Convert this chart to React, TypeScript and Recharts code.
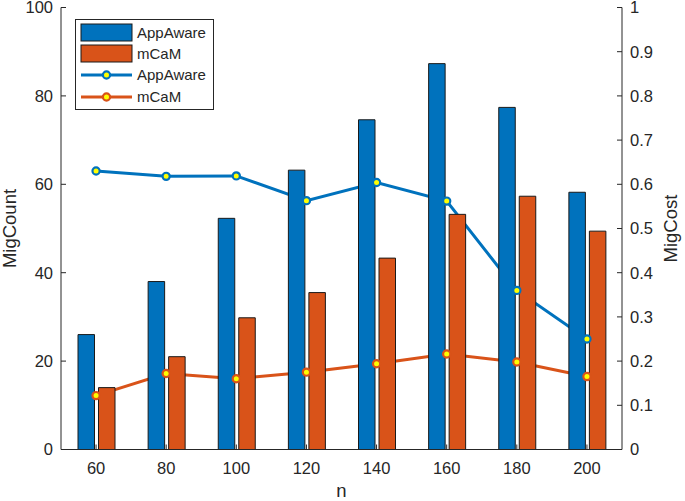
import React from 'react'
import { ComposedChart, Bar, Line, XAxis, YAxis } from 'recharts'

const FONT = '"Liberation Sans", Arial, Helvetica, sans-serif'
const INK = '#262626'
const BLUE = '#0072BD'
const ORANGE = '#D95319'
const MARKER_FILL = '#FFFF00'

// n values along the x axis
const categories = ['60', '80', '100', '120', '140', '160', '180', '200']

// bars, left axis (MigCount)
const appAwareCount = [26, 38, 52.3, 63.2, 74.6, 87.3, 77.4, 58.2]
const mcamCount = [14, 21, 29.8, 35.5, 43.3, 53.2, 57.3, 49.4]

// lines, right axis (MigCost)
const appAwareCost = [0.63, 0.618, 0.619, 0.563, 0.604, 0.562, 0.36, 0.25]
const mcamCost = [0.122, 0.172, 0.16, 0.175, 0.194, 0.216, 0.198, 0.165]

const countTicks = [0, 20, 40, 60, 80, 100]
const costTicks = [0, 0.1, 0.2, 0.3, 0.4, 0.5, 0.6, 0.7, 0.8, 0.9, 1]

const data = categories.map((n, i) => ({
  n,
  appAwareCount: appAwareCount[i],
  mcamCount: mcamCount[i],
  appAwareCost: appAwareCost[i],
  mcamCost: mcamCost[i],
}))

const tickStyle = { fill: INK, fontSize: 16.5, fontFamily: FONT }
const labelStyle = { fill: INK, fontSize: 18.5, fontFamily: FONT, textAnchor: 'middle' as const }

const emptyTick = () => <g />

// MATLAB style marker: coloured ring, yellow centre
const ringDot = (color: string) => (props: any) => {
  const { cx, cy, key } = props
  if (cx == null || cy == null) return <g key={key} />
  return <circle key={key} cx={cx} cy={cy} r={3.6} fill={MARKER_FILL} stroke={color} strokeWidth={2.2} />
}

function ChartLegend() {
  const rows = [
    { label: 'AppAware', color: BLUE, kind: 'bar' },
    { label: 'mCaM', color: ORANGE, kind: 'bar' },
    { label: 'AppAware', color: BLUE, kind: 'line' },
    { label: 'mCaM', color: ORANGE, kind: 'line' },
  ]
  const centers = [13.5, 34.5, 56, 78]
  return (
    <svg
      width={139}
      height={91}
      style={{ position: 'absolute', left: 74.5, top: 18.5, overflow: 'visible' }}
    >
      <rect x={0.5} y={0.5} width={138} height={90} fill="#fff" stroke={INK} strokeWidth={1} />
      {rows.map((r, i) => (
        <g key={i}>
          {r.kind === 'bar' ? (
            <rect x={6} y={centers[i] - 8.5} width={51} height={17} fill={r.color} stroke="#1a1a1a" strokeWidth={1} />
          ) : (
            <g>
              <line x1={6} x2={57} y1={centers[i]} y2={centers[i]} stroke={r.color} strokeWidth={3} />
              <circle cx={31.5} cy={centers[i]} r={3.6} fill={MARKER_FILL} stroke={r.color} strokeWidth={2.2} />
            </g>
          )}
          <text x={62} y={centers[i]} dy="0.36em" fontSize={15} fontFamily={FONT} fill={INK}>
            {r.label}
          </text>
        </g>
      ))}
    </svg>
  )
}

export default function App() {
  return (
    <div style={{ position: 'absolute', left: 0, top: 0, width: 685, height: 501, background: '#fff' }}>
      <ComposedChart
        width={685}
        height={501}
        data={data}
        margin={{ top: 7.5, right: 8, bottom: 0, left: 0 }}
        barGap={4}
      >
        <XAxis
          dataKey="n"
          height={51.5}
          tick={tickStyle}
          tickSize={-5}
          tickMargin={18}
          axisLine={{ stroke: INK }}
          tickLine={{ stroke: INK }}
          interval={0}
          label={{ value: 'n', position: 'insideBottom', offset: 4, style: labelStyle }}
        />
        <XAxis
          xAxisId="top"
          dataKey="n"
          orientation="top"
          height={0}
          tick={emptyTick}
          tickSize={-5}
          axisLine={{ stroke: INK }}
          tickLine={{ stroke: INK }}
          interval={0}
        />
        <YAxis
          yAxisId="left"
          width={61}
          domain={[0, 100]}
          ticks={countTicks}
          interval={0}
          tick={tickStyle}
          tickSize={-5}
          tickMargin={13}
          axisLine={{ stroke: INK }}
          tickLine={{ stroke: INK }}
          label={{ value: 'MigCount', angle: -90, position: 'insideLeft', offset: 9.5, style: labelStyle }}
        />
        <YAxis
          yAxisId="right"
          orientation="right"
          width={55}
          domain={[0, 1]}
          ticks={costTicks}
          interval={0}
          tick={tickStyle}
          tickSize={-5}
          tickMargin={13}
          axisLine={{ stroke: INK }}
          tickLine={{ stroke: INK }}
          label={{ value: 'MigCost', angle: -90, position: 'insideRight', offset: 7, style: labelStyle }}
        />

        {/* line strokes sit behind the bars, markers on top, like the MATLAB figure */}
        <Line
          yAxisId="right"
          dataKey="appAwareCost"
          stroke={BLUE}
          strokeWidth={3}
          dot={false}
          activeDot={false}
          legendType="none"
          zIndex={250}
          isAnimationActive={false}
        />
        <Line
          yAxisId="right"
          dataKey="mcamCost"
          stroke={ORANGE}
          strokeWidth={3}
          dot={false}
          activeDot={false}
          legendType="none"
          zIndex={250}
          isAnimationActive={false}
        />
        <Bar yAxisId="left" dataKey="appAwareCount" name="AppAware" fill={BLUE} stroke="#1a1a1a" strokeWidth={1} barSize={16.5} isAnimationActive={false} />
        <Bar yAxisId="left" dataKey="mcamCount" name="mCaM" fill={ORANGE} stroke="#1a1a1a" strokeWidth={1} barSize={16.5} isAnimationActive={false} />
        <Line
          yAxisId="right"
          dataKey="appAwareCost"
          name="AppAware"
          stroke="none"
          dot={ringDot(BLUE)}
          activeDot={false}
          isAnimationActive={false}
        />
        <Line
          yAxisId="right"
          dataKey="mcamCost"
          name="mCaM"
          stroke="none"
          dot={ringDot(ORANGE)}
          activeDot={false}
          isAnimationActive={false}
        />
      </ComposedChart>
      <ChartLegend />
    </div>
  )
}
